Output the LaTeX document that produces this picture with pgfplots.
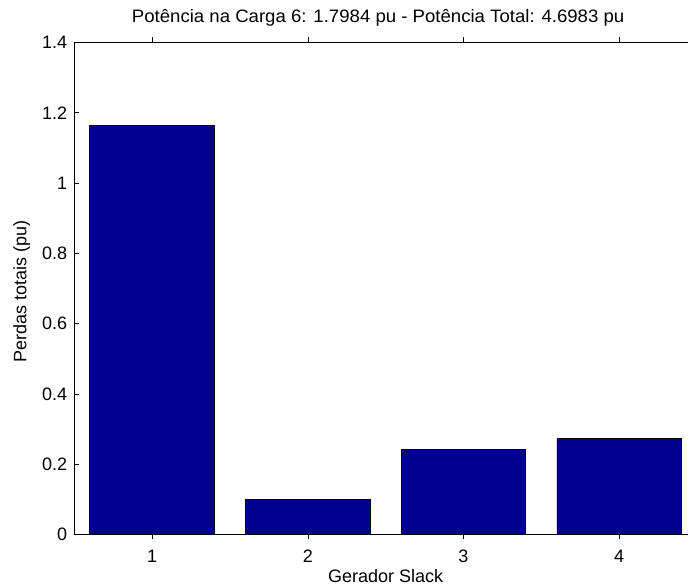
\documentclass[border=0pt]{standalone}
\usepackage{pgfplots}
\pgfplotsset{compat=1.18}
\usepackage{fontspec}
\setmainfont{Liberation Sans}
\newfontfamily\titlefont{Liberation Sans}[FakeStretch=1.033]
\definecolor{barblue}{RGB}{0,0,143}
\begin{document}
\begin{tikzpicture}
\begin{axis}[
  at={(0,0)}, anchor=south west,
  scale only axis,
  width=622.7pt, height=492pt,
  xmin=0.5, xmax=4.5,
  ymin=0, ymax=1.4,
  xtick={1,2,3,4},
  ytick={0,0.2,0.4,0.6,0.8,1,1.2,1.4},
  yticklabel style={/pgf/number format/fixed, /pgf/number format/precision=1},
  /pgf/number format/assume math mode=true,
  tick align=inside,
  major tick length=5pt,
  tick style={black, line width=0.6pt},
  axis line style={line width=0.8pt},
  font=\fontsize{18}{20}\selectfont,
  ticklabel style={font=\fontsize{18}{20}\selectfont},
  xticklabel style={anchor=base, yshift=-23.5pt, inner sep=0pt},
  yticklabel style={anchor=east, inner sep=0pt, xshift=-7pt},
  xlabel={Gerador Slack},
  ylabel={Perdas totais (pu)},
  xlabel style={at={(axis description cs:0.5,0)}, anchor=base, yshift=-48pt, inner sep=0pt},
  ylabel style={at={(axis description cs:0,0.5)}, anchor=base, yshift=48pt, xshift=-3pt, inner sep=0pt},
  title={\titlefont Potência na Carga 6: 1.7984 pu - Potência Total: 4.6983 pu},
  title style={at={(axis description cs:0.5,1)}, anchor=base, yshift=14pt, xshift=-7.5pt, inner sep=0pt},
  ybar, bar width=124.6pt,
]
\addplot[fill=barblue, draw=black, line width=0.7pt] coordinates {
  (1,1.164) (2,0.099) (3,0.241) (4,0.274)
};
\end{axis}
\pgfresetboundingbox
\useasboundingbox (-74.3pt,-50.5pt) rectangle (613.7pt,534.5pt);
\end{tikzpicture}
\end{document}
